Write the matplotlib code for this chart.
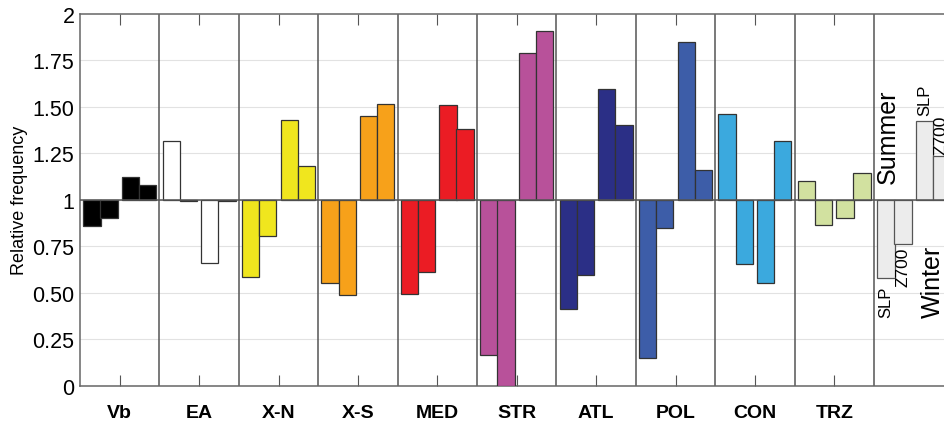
import matplotlib
matplotlib.use("Agg")
import matplotlib.pyplot as plt
import numpy as np

plt.rcParams["font.family"] = ["Liberation Sans", "DejaVu Sans"]

# circulation types and relative frequencies (winter SLP, winter Z700, summer SLP, summer Z700)
types = ["Vb", "EA", "X-N", "X-S", "MED", "STR", "ATL", "POL", "CON", "TRZ"]
winter_slp = [0.86, 1.316, 0.587, 0.553, 0.492, 0.164, 0.41, 0.149, 1.462, 1.103]
winter_z700 = [0.90, 0.995, 0.806, 0.49, 0.611, 0.0, 0.593, 0.851, 0.657, 0.863]
summer_slp = [1.124, 0.659, 1.427, 1.449, 1.508, 1.79, 1.596, 1.848, 0.55, 0.903]
summer_z700 = [1.081, 0.995, 1.18, 1.514, 1.382, 1.907, 1.404, 1.158, 1.314, 1.144]
colors = ["#000000", "#ffffff", "#f0e61e", "#f7a11a", "#eb1c24",
          "#b8519a", "#2b2f86", "#3d5da8", "#3ba9de", "#d2e1a0"]

# key panel bars
key_values = [0.578, 0.765, 1.424, 1.237]
key_color = "#ececec"

offsets = [-0.350, -0.134, 0.134, 0.350]
width = 0.217

fig = plt.figure(figsize=(9.45, 4.27), dpi=100)
ax = fig.add_axes([80 / 945, 0.0944, 873.4 / 945, 0.8705])

ax.set_xlim(0, 11)
ax.set_ylim(0, 2)

for i, name in enumerate(types):
    vals = [winter_slp[i], winter_z700[i], summer_slp[i], summer_z700[i]]
    for off, v in zip(offsets, vals):
        ax.bar(i + 0.5 + off, v - 1, bottom=1, width=width, color=colors[i],
               edgecolor="#333333", linewidth=0.9, zorder=3)

for off, v in zip(offsets, key_values):
    ax.bar(10.5 + off, v - 1, bottom=1, width=width, color=key_color,
           edgecolor="#555555", linewidth=0.9, zorder=3)

# key labels
kx = 10.5
ax.text(kx + offsets[0], key_values[0] - 0.04, "SLP", rotation=90, ha="center", va="top", fontsize=12)
ax.text(kx + offsets[1], key_values[1] - 0.015, "Z700", rotation=90, ha="center", va="top", fontsize=12.5)
ax.text(kx + offsets[2], key_values[2] + 0.03, "SLP", rotation=90, ha="center", va="bottom", fontsize=12)
ax.text(kx + offsets[3], key_values[3] + 0.01, "Z700", rotation=90, ha="center", va="bottom", fontsize=12.5)
ax.text(kx - 0.33, 1.093, "Summer", rotation=90, ha="center", va="bottom", fontsize=18)
ax.text(kx + 0.24, 0.761, "Winter", rotation=90, ha="center", va="top", fontsize=18)

# grid, group separators and baseline
for yv in np.arange(0.25, 2.0, 0.25):
    ax.axhline(yv, color="#e2e2e2", linewidth=0.8, zorder=1)
for xv in range(1, 11):
    ax.axvline(xv, color="#555555", linewidth=1.1, zorder=2)
ax.axhline(1, color="#555555", linewidth=1.1, zorder=4)

ax.set_yticks(np.arange(0, 2.01, 0.25))
ax.set_yticklabels(["0", "0.25", "0.50", "0.75", "1", "1.25", "1.50", "1.75", "2"])
ax.set_xticks(np.arange(10) + 0.5)
ax.set_xticklabels(types, fontweight="bold", fontsize=14)
ax.tick_params(axis="x", direction="in", length=8, top=True, pad=13, color="#555555")
ax.tick_params(axis="y", direction="in", length=0, labelsize=15.5, pad=4)
ax.set_ylabel("Relative frequency", fontsize=13)
ax.yaxis.set_label_coords(-0.0595, 0.5)

for s in ax.spines.values():
    s.set_color("#666666")
    s.set_linewidth(1.1)

fig.savefig("out.png", dpi=100)
